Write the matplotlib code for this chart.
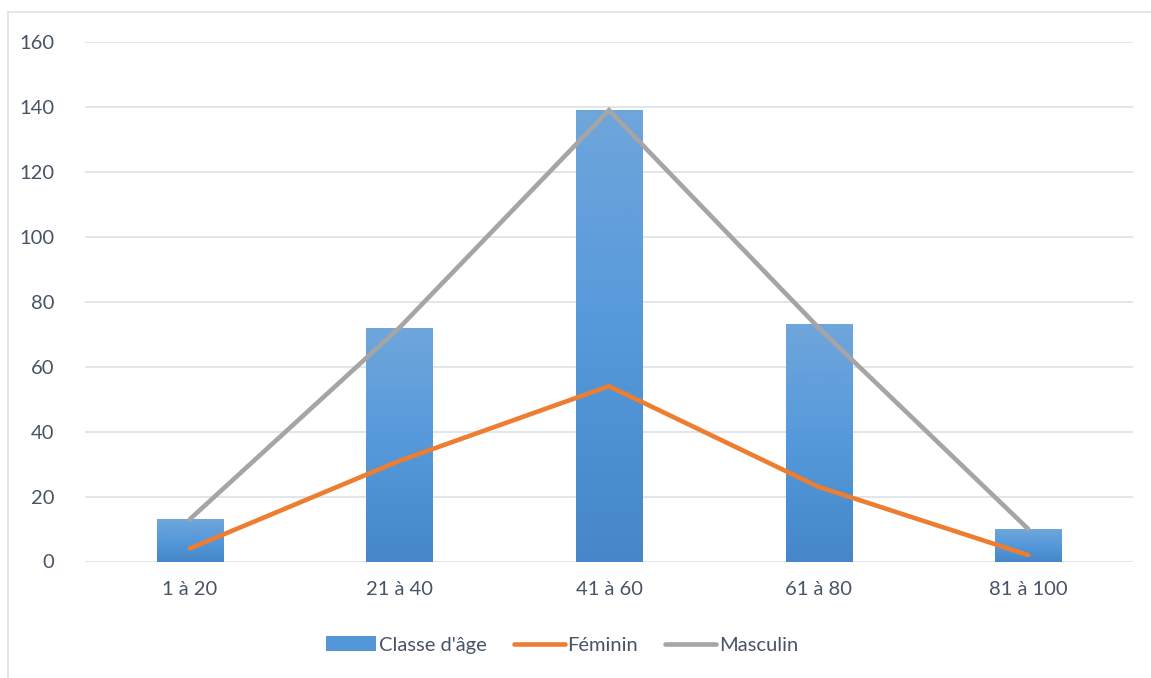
import numpy as np
import matplotlib
matplotlib.use("Agg")
import matplotlib.pyplot as plt
from matplotlib.colors import LinearSegmentedColormap
from matplotlib.lines import Line2D
from matplotlib.patches import Patch

# Age classes and counts
categories = ["1 à 20", "21 à 40", "41 à 60", "61 à 80", "81 à 100"]
classe_age = [13, 72, 139, 73, 10]
feminin = [4, 31, 54, 23, 2]
masculin = [13, 72, 139, 72, 10]
y_ticks = [0, 20, 40, 60, 80, 100, 120, 140, 160]

TEXT = "#475466"
GRID = "#dde1e8"
ORANGE = "#ED7D31"
GRAY = "#A5A5A5"

plt.rcParams["font.family"] = ["Lato", "DejaVu Sans"]

W, H = 1151, 678
fig = plt.figure(figsize=(W / 100, H / 100), dpi=100)
ax = fig.add_axes([85 / W, 1 - 561.5 / H, (1133 - 85) / W, (561.5 - 42) / H])

x = np.arange(len(categories))
bar_w = 0.315

# Bars with a vertical blue gradient (lighter at top)
cmap = LinearSegmentedColormap.from_list("bluegrad", ["#4587c9", "#5599db", "#6fa6db"])
grad = np.linspace(0, 1, 256).reshape(-1, 1)
bars = ax.bar(x, classe_age, width=bar_w, color="none", edgecolor="none", zorder=2)
for b in bars:
    x0, y0 = b.get_x(), b.get_y()
    w, h = b.get_width(), b.get_height()
    im = ax.imshow(grad, cmap=cmap, aspect="auto", origin="lower",
                   extent=[x0, x0 + w, y0, y0 + h], zorder=2)
    im.set_clip_path(b)

ax.plot(x, feminin, color=ORANGE, lw=3.3, solid_capstyle="round",
        solid_joinstyle="round", zorder=3)
ax.plot(x, masculin, color=GRAY, lw=3.3, solid_capstyle="round",
        solid_joinstyle="miter", zorder=4)

ax.set_xlim(-0.5, len(categories) - 0.5)
ax.set_ylim(0, 160)
ax.set_yticks(y_ticks)
ax.set_xticks(x)
ax.set_xticklabels(categories)
ax.yaxis.grid(True, color=GRID, lw=1.2, zorder=0)
ax.set_axisbelow(True)
for s in ax.spines.values():
    s.set_visible(False)
ax.tick_params(axis="both", length=0, labelsize=14.5, labelcolor=TEXT)
ax.tick_params(axis="y", pad=22)
ax.tick_params(axis="x", pad=14)

# Legend
handles = [
    Patch(facecolor="#5397d8", edgecolor="none"),
    Line2D([0], [0], color=ORANGE, lw=3.3, solid_capstyle="round"),
    Line2D([0], [0], color=GRAY, lw=3.3, solid_capstyle="round"),
]
leg = fig.legend(handles, ["Classe d'âge", "Féminin", "Masculin"],
                 loc="center", bbox_to_anchor=(562 / W, 1 - 645 / H),
                 ncol=3, frameon=False, fontsize=14.5, handlelength=2.5,
                 handleheight=0.75, handletextpad=0.15, columnspacing=1.35,
                 labelcolor=TEXT)

# Chart area border (left and top edges)
fig.add_artist(Line2D([8 / W, 8 / W], [0, 1 - 12 / H], color=GRID, lw=1.2))
fig.add_artist(Line2D([8 / W, 1], [1 - 12 / H, 1 - 12 / H], color=GRID, lw=1.2))

fig.savefig("out.png", dpi=100)
